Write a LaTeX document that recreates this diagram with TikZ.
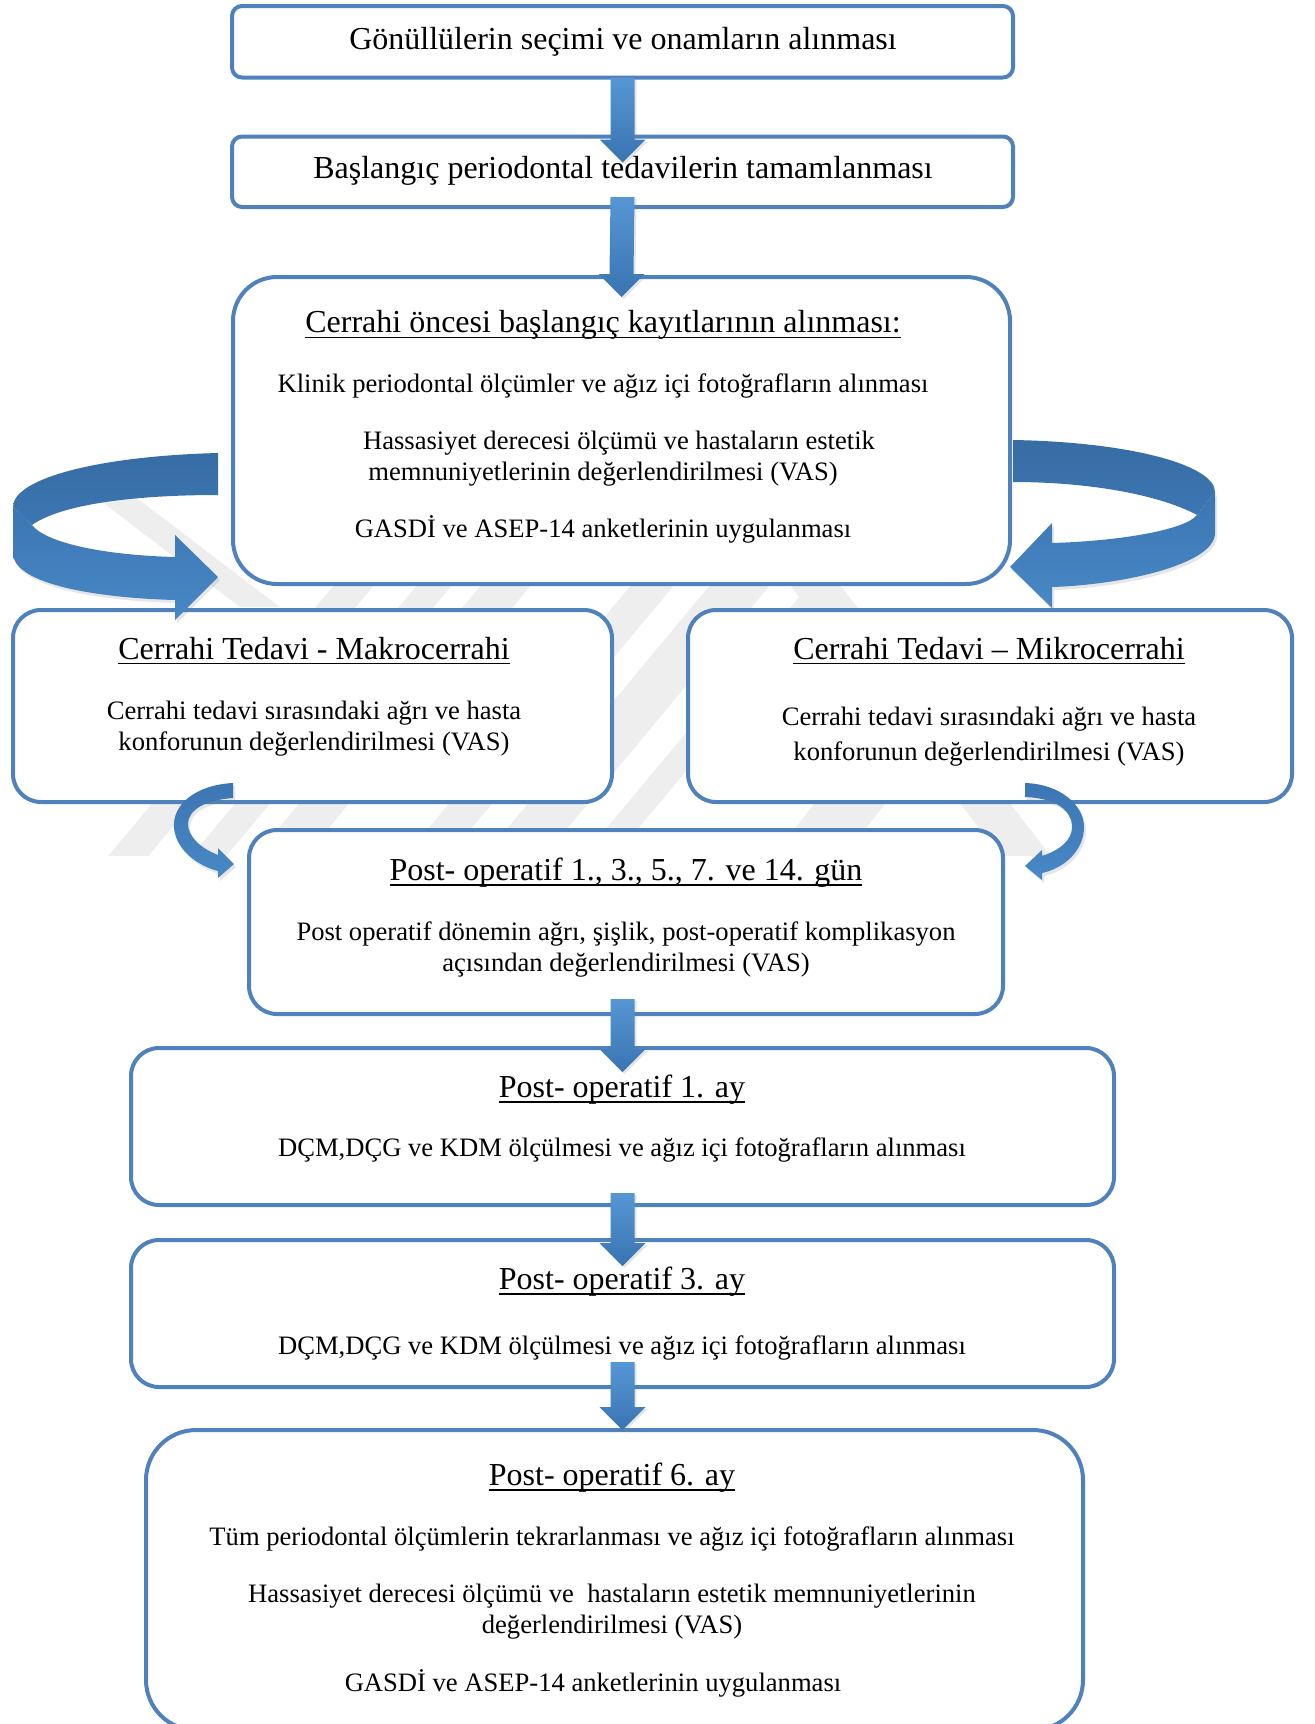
\documentclass[tikz,border=0pt]{standalone}
\usepackage{fontspec}
\setmainfont{Liberation Serif}
\usepackage{tikz}
\usetikzlibrary{calc, fit, shadows}
\definecolor{boxblue}{RGB}{79,129,189}
\definecolor{arrowtop}{RGB}{86,150,212}
\definecolor{arrowbot}{RGB}{58,116,178}
\definecolor{ribbondark}{RGB}{60,118,178}
\definecolor{ribbonlight}{RGB}{72,136,198}
\definecolor{markgray}{RGB}{238,238,238}
\tikzset{box/.style={draw=boxblue, line width=2pt, fill=white, inner sep=0pt, outer sep=0pt}}
\tikzset{txt/.style={align=center, inner sep=0pt, font=\fontsize{13.3}{15.5}\selectfont}}
\tikzset{blockar/.style={top color=arrowtop, bottom color=arrowbot,
  drop shadow={opacity=0.2, shadow xshift=1pt, shadow yshift=-1pt}}}
\tikzset{ribbon/.style={top color=ribbondark, bottom color=ribbonlight,
  drop shadow={opacity=0.2, shadow xshift=1pt, shadow yshift=-1.5pt}}}
\tikzset{ribbonback/.style={top color=ribbondark!92!black, bottom color=ribbondark}}
\newsavebox{\hdbox}
\newcommand{\hd}[1]{{\fontsize{16}{18}\selectfont\sbox{\hdbox}{#1}%
  \rlap{\rule[-2.6pt]{\wd\hdbox}{0.6pt}}\usebox{\hdbox}}}
% #1 from, #2 shift, #3 to, #4 shift
\newcommand{\blockarrow}[4]{%
  \path[blockar] ($(#1)+(-12,#2)$) -- ($(#3)+(-12,#4-23)$) -- ($(#3)+(-23,#4-23)$)
    -- ($(#3)+(0,#4)$) -- ($(#3)+(23,#4-23)$) -- ($(#3)+(12,#4-23)$)
    -- ($(#1)+(12,#2)$) -- cycle;}

\begin{document}
\begin{tikzpicture}[x=0.5pt, y=-0.5pt]
    \useasboundingbox (0,0) rectangle (1314,1724);
    % watermark
    \begin{scope}
        \clip (90,440) rectangle (1110,855);
        \foreach \a/\b in {143/183, 226/261, 290/340, 440/483, 519/579, 618/650}
            \fill[markgray] (\a-38,860) -- (\b-38,860) -- (\b+312,440) -- (\a+312,440) -- cycle;
        \fill[markgray] (770,860) -- (841,860) -- (967,700) -- (896,700) -- cycle;
        \fill[markgray] (60,470) -- (100,470) -- (280,607) -- (240,607) -- cycle;
        \fill[markgray] (790,585) -- (840,585) -- (1054,860) -- (1004,860) -- cycle;
    \end{scope}
    % boxes
    \node[box, rounded corners=5pt, fit={(232,6) (1013,77.5)}] (b1) {};
    \node[box, rounded corners=5pt, fit={(232,136.5) (1013,207)}] (b2) {};
    \node[box, rounded corners=22pt, fit={(233,277) (1010,584)}] (b3) {};
    \node[box, rounded corners=14pt, fit={(13,610) (612,802)}] (b4) {};
    \node[box, rounded corners=14pt, fit={(688,610) (1292,802)}] (b5) {};
    \node[box, rounded corners=14pt, fit={(249,830) (1003,1014)}] (b6) {};
    \node[box, rounded corners=14pt, fit={(131,1048) (1114,1205)}] (b7) {};
    \node[box, rounded corners=14pt, fit={(131,1240) (1114,1387)}] (b8) {};
    \node[box, rounded corners=25pt, fit={(146,1430) (1083,1730)}] (b9) {};
    % straight arrows
    \blockarrow{b1.south}{0}{b2.north}{26}
    \blockarrow{b2.south}{-10}{b3.north}{20}
    \blockarrow{b6.south -| b7.north}{-15}{b7.north}{24}
    \blockarrow{b7.south}{-12}{b8.north}{26}
    \blockarrow{b8.south}{-25}{b9.north -| b8.south}{0}
    % curved arrows
    \path[ribbonback] (218,453) .. controls (100,456) and (13,478) .. (13,507) -- (32,525)
        .. controls (60,505) and (130,495) .. (218,495) -- cycle;
    \path[ribbon] (13,507) -- (13,553) .. controls (13,585) and (100,598) .. (175,600)
        -- (175,620) -- (218,577) -- (175,535) -- (175,557)
        .. controls (100,555) and (45,542) .. (32,525) -- cycle;
    \path[ribbonback] (1013,440) .. controls (1130,442) and (1215,465) .. (1215,492) -- (1197,515)
        .. controls (1160,495) and (1090,482) .. (1013,482) -- cycle;
    \path[ribbon] (1215,492) -- (1215,533) .. controls (1215,565) and (1120,585) .. (1052,587)
        -- (1052,608) -- (1010,567) -- (1052,523) -- (1052,543)
        .. controls (1120,541) and (1185,530) .. (1197,515) -- cycle;
    \path[ribbon] (233,783) .. controls (195,785) and (172,805) .. (174,828)
        .. controls (176,850) and (198,866) .. (218,871) -- (218,878) -- (234,864)
        -- (218,848) -- (218,855) .. controls (200,848) and (188,836) .. (188,824)
        .. controls (188,810) and (205,800) .. (233,798) -- cycle;
    \path[ribbon] (1025,783) .. controls (1060,784) and (1084,805) .. (1084,827)
        .. controls (1084,850) and (1065,868) .. (1042,873) -- (1042,880) -- (1025,866)
        -- (1042,850) -- (1042,856) .. controls (1060,850) and (1072,840) .. (1072,827)
        .. controls (1072,810) and (1055,798) .. (1025,797) -- cycle;
    % texts
    \node[txt, font=\fontsize{16}{18}\selectfont] (t1) at (623,42) {Gönüllülerin seçimi ve onamların alınması};
    \node[txt, font=\fontsize{16}{18}\selectfont] (t2) at (623,171) {Başlangıç periodontal tedavilerin tamamlanması};
    \node[txt] (t3) at (603,427) {\hd{Cerrahi öncesi başlangıç kayıtlarının alınması:}\\[14.5pt]
        Klinik periodontal ölçümler ve ağız içi fotoğrafların alınması\\[13pt]
        \hspace*{16pt}Hassasiyet derecesi ölçümü ve hastaların estetik\\
        memnuniyetlerinin değerlendirilmesi (VAS)\\[13pt]
        GASDİ ve ASEP-14 anketlerinin uygulanması};
    \node[txt] (t4) at (314,696.5) {\hd{Cerrahi Tedavi - Makrocerrahi}\\[14.5pt]
        Cerrahi tedavi sırasındaki ağrı ve hasta\\
        konforunun değerlendirilmesi (VAS)};
    \node[txt] (t5) at (989,701.5) {\hd{Cerrahi Tedavi – Mikrocerrahi}\\[17.5pt]
        Cerrahi tedavi sırasındaki ağrı ve hasta\\[2pt]
        konforunun değerlendirilmesi (VAS)};
    \node[txt] (t6) at (626,917.5) {\hd{Post- operatif 1., 3., 5., 7. ve 14. gün}\\[14.5pt]
        Post operatif dönemin ağrı, şişlik, post-operatif komplikasyon\\
        açısından değerlendirilmesi (VAS)};
    \node[txt] (t7) at (622,1118.5) {\hd{Post- operatif 1. ay}\\[14pt]
        DÇM,DÇG ve KDM ölçülmesi ve ağız içi fotoğrafların alınması};
    \node[txt] (t8) at (622,1313.5) {\hd{Post- operatif 3. ay}\\[17pt]
        DÇM,DÇG ve KDM ölçülmesi ve ağız içi fotoğrafların alınması};
    \node[txt] (t9) at (612,1580) {\hd{Post- operatif 6. ay}\\[14.5pt]
        Tüm periodontal ölçümlerin tekrarlanması ve ağız içi fotoğrafların alınması\\[13pt]
        Hassasiyet derecesi ölçümü ve\ \ hastaların estetik memnuniyetlerinin\\
        değerlendirilmesi (VAS)\\[13.5pt]
        GASDİ ve ASEP-14 anketlerinin uygulanması\hspace*{19pt}};
\end{tikzpicture}
\end{document}
